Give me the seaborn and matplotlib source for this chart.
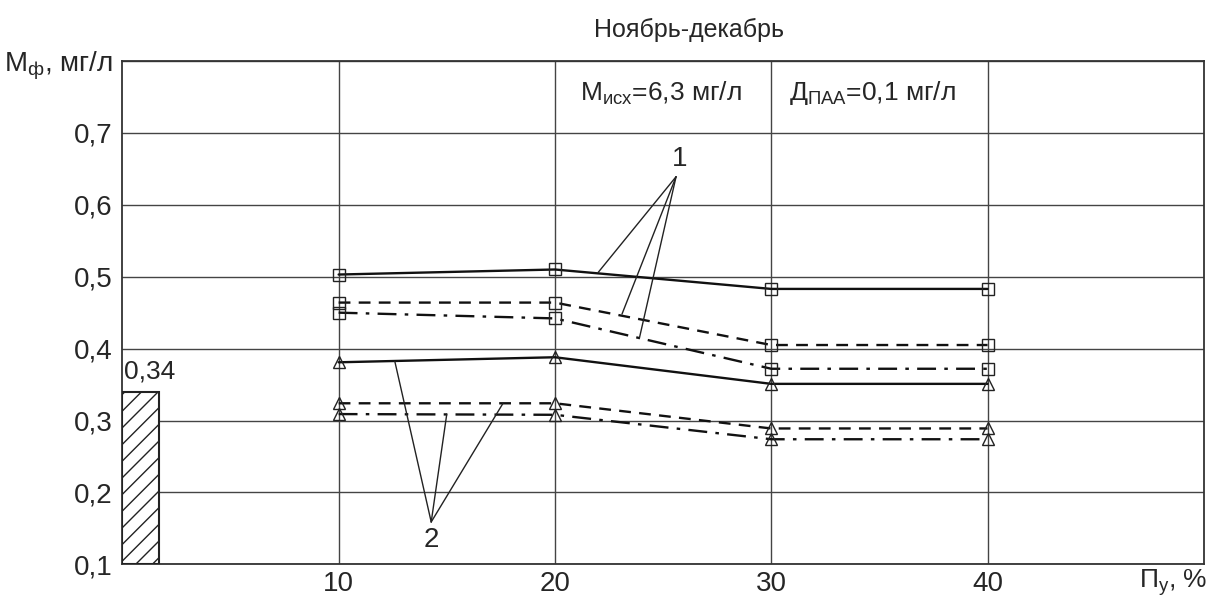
import numpy as np
import pandas as pd
import seaborn as sns
import matplotlib.pyplot as plt

# П_у, %
pu = [10, 20, 30, 40]

# series 1 (squares) and series 2 (triangles), M_ф, мг/л
s1_solid = [0.503, 0.510, 0.483, 0.483]
s1_dash = [0.464, 0.464, 0.405, 0.405]
s1_dashdot = [0.450, 0.442, 0.372, 0.372]
s2_solid = [0.381, 0.388, 0.351, 0.351]
s2_dash = [0.324, 0.324, 0.289, 0.289]
s2_dashdot = [0.309, 0.308, 0.274, 0.274]

base_value = 0.34
base_label = '0,34'

yticks = [0.1, 0.2, 0.3, 0.4, 0.5, 0.6, 0.7, 0.8]
ytick_labels = ['0,1', '0,2', '0,3', '0,4', '0,5', '0,6', '0,7', r'М$_{\mathrm{ф}}$, мг/л']
xticks = [10, 20, 30, 40]
xtick_labels = ['10', '20', '30', '40']

sns.set_style('white')
plt.rcParams['font.family'] = ['Liberation Sans', 'DejaVu Sans']
plt.rcParams['mathtext.fontset'] = 'custom'
plt.rcParams['mathtext.rm'] = 'Liberation Sans'
plt.rcParams['mathtext.it'] = 'Liberation Sans'
plt.rcParams['hatch.linewidth'] = 1.0

fig, ax = plt.subplots(figsize=(12.16, 6.03), dpi=100)
fig.subplots_adjust(left=0.1006, right=0.990, top=0.899, bottom=0.064)

# hatched reference bar
ax.bar([0.85], [base_value - 0.1], bottom=0.1, width=1.7, facecolor='white',
       edgecolor='#222222', hatch='//', linewidth=1.5, zorder=3)
ax.text(0.1, base_value + 0.012, base_label, fontsize=19, ha='left', va='bottom')

dash = (0, (5, 3.5))
dashdot = (0, (8, 3.5, 1.5, 3.5))
series = [
    (s1_solid, '-', 's'), (s1_dash, dash, 's'), (s1_dashdot, dashdot, 's'),
    (s2_solid, '-', '^'), (s2_dash, dash, '^'), (s2_dashdot, dashdot, '^'),
]
for vals, ls, mk in series:
    sns.lineplot(x=pu, y=vals, ax=ax, color='#111111', linestyle=ls, linewidth=1.7,
                 marker=mk, markersize=8, markerfacecolor='none', markeredgecolor='#222222',
                 markeredgewidth=1.0, zorder=4)

# leader lines for labels 1 and 2
lead_color = '#222222'
for ex, ey in [(22.0, 0.506), (23.1, 0.448), (23.9, 0.414)]:
    ax.plot([25.6, ex], [0.639, ey], color=lead_color, lw=1.0, zorder=5)
ax.text(25.75, 0.645, '1', fontsize=20, ha='center', va='bottom')
for ex, ey in [(12.6, 0.382), (15.0, 0.309), (17.6, 0.324)]:
    ax.plot([14.28, ex], [0.159, ey], color=lead_color, lw=1.0, zorder=5)
ax.text(14.3, 0.152, '2', fontsize=20, ha='center', va='top')

ax.text(24.9, 0.755, r'М$_{\mathrm{исх}}$=6,3 мг/л', fontsize=19, ha='center', va='center')
ax.text(34.7, 0.755, r'Д$_{\mathrm{ПАА}}$=0,1 мг/л', fontsize=19, ha='center', va='center')
fig.text(689 / 1216, 1 - 30 / 603, 'Ноябрь-декабрь', fontsize=18, ha='center', va='center')
ax.text(48.6, 0.075, r'П$_{\mathrm{у}}$, %', fontsize=19, ha='center', va='center')

ax.set_xlim(0, 50)
ax.set_ylim(0.1, 0.8)
ax.set_xticks(xticks)
ax.set_xticklabels(xtick_labels, fontsize=20)
ax.set_yticks(yticks)
ax.set_yticklabels(ytick_labels, fontsize=20)
ax.tick_params(axis='x', length=0, pad=5)
ax.tick_params(axis='y', length=0, pad=7)
ax.grid(True, color='#444444', linewidth=1.0)
ax.set_axisbelow(True)
for sp in ax.spines.values():
    sp.set_color('#333333')
    sp.set_linewidth(1.3)
ax.set_xlabel('')
ax.set_ylabel('')

plt.savefig('out.png', dpi=100)
